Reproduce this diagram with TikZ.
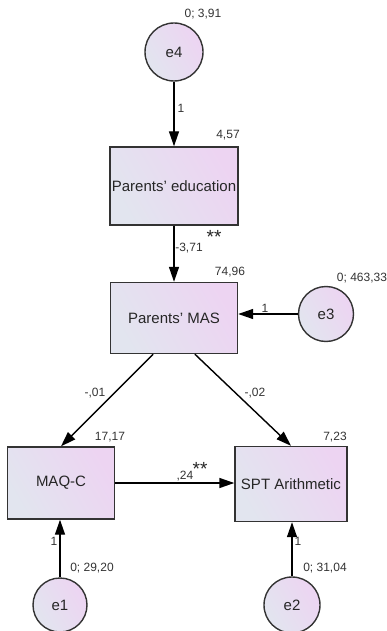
\documentclass[tikz,border=0pt]{standalone}
\usepackage{fontspec}
\setmainfont{Liberation Sans}
\usepackage{tikz}
\usetikzlibrary{arrows.meta, positioning}
\definecolor{boxleft}{HTML}{E2E5EF}
\definecolor{boxright}{HTML}{EDD4F2}
\definecolor{edgegray}{HTML}{333333}
\definecolor{numgray}{HTML}{333333}
\tikzset{%
	every variable/.style={
		draw=edgegray,
		line width=1.4pt,
		left color=boxleft,
		right color=boxright,
		shading angle=120,
		font=\fontsize{15}{17}\selectfont,
		text=black!85,
		inner sep=0pt
	},
	observed/.style={
		every variable,
		rectangle
	},
	residual/.style={
		every variable,
		circle
	},
	estimate/.style={
		font=\fontsize{12}{14}\selectfont,
		text=numgray,
		inner sep=0pt
	},
	signif/.style={
		font=\fontsize{19}{19}\selectfont,
		text=black!85,
		inner sep=0pt
	},
	path/.style={
		line width=1.4pt,
		-{Triangle[length=15pt, width=10pt]}
	}
}

\begin{document}
\begin{tikzpicture}[x=1pt, y=-1pt]
	\useasboundingbox (0,0) rectangle (387,631);
	% variables
	\node[residual, minimum size=58pt] (e4) at (174,52) {e4};
	\node[observed, minimum width=128pt, minimum height=78pt] (educ) at (174,186) {Parents' education};
	\node[observed, minimum width=127pt, minimum height=71pt] (mas) at (174,318) {Parents' MAS};
	\node[residual, minimum size=55pt] (e3) at (326,314) {e3};
	\node[observed, minimum width=107pt, minimum height=72pt] (maqc) at (61,483) {MAQ-C};
	\node[observed, minimum width=112pt, minimum height=75pt] (spt) at (291,484) {SPT Arithmetic};
	\node[residual, minimum size=54pt] (e1) at (60,605) {e1};
	\node[residual, minimum size=56pt] (e2) at (292,605) {e2};
	% paths
	\draw[path] (e4) -- (educ);
	\draw[path] (educ) -- (mas);
	\draw[path] (e3) -- (mas.east |- e3);
	\draw[path] (mas.240) -- (maqc.north);
	\draw[path] (mas.300) -- (spt.north);
	\draw[path] (maqc.east) -- (spt.west |- maqc.east);
	\draw[path] (e1) -- (e1 |- maqc.south);
	\draw[path] (e2) -- (e2 |- spt.south);
	% estimates
	\node[estimate] (v4) at (203,14) {0; 3,91};
	\node[estimate] (w4) at (181,108) {1};
	\node[estimate] (i1) at (228,135) {4,57};
	\node[estimate] (b1) at (189,248) {-3,71};
	\node[signif] (s1) at (214,237) {**};
	\node[estimate] (i2) at (230,272) {74,96};
	\node[estimate] (v3) at (362,278) {0; 463,33};
	\node[estimate] (w3) at (265,308) {1};
	\node[estimate] (b2) at (95,393) {-,01};
	\node[estimate] (b3) at (255,393) {-,02};
	\node[estimate] (i3) at (110,437) {17,17};
	\node[estimate] (i4) at (335,437) {7,23};
	\node[estimate] (b4) at (185,476) {,24};
	\node[signif] (s2) at (200,469) {**};
	\node[estimate] (w1) at (54,541) {1};
	\node[estimate] (w2) at (298,541) {1};
	\node[estimate] (v1) at (92,568) {0; 29,20};
	\node[estimate] (v2) at (325,568) {0; 31,04};
\end{tikzpicture}
\end{document}
